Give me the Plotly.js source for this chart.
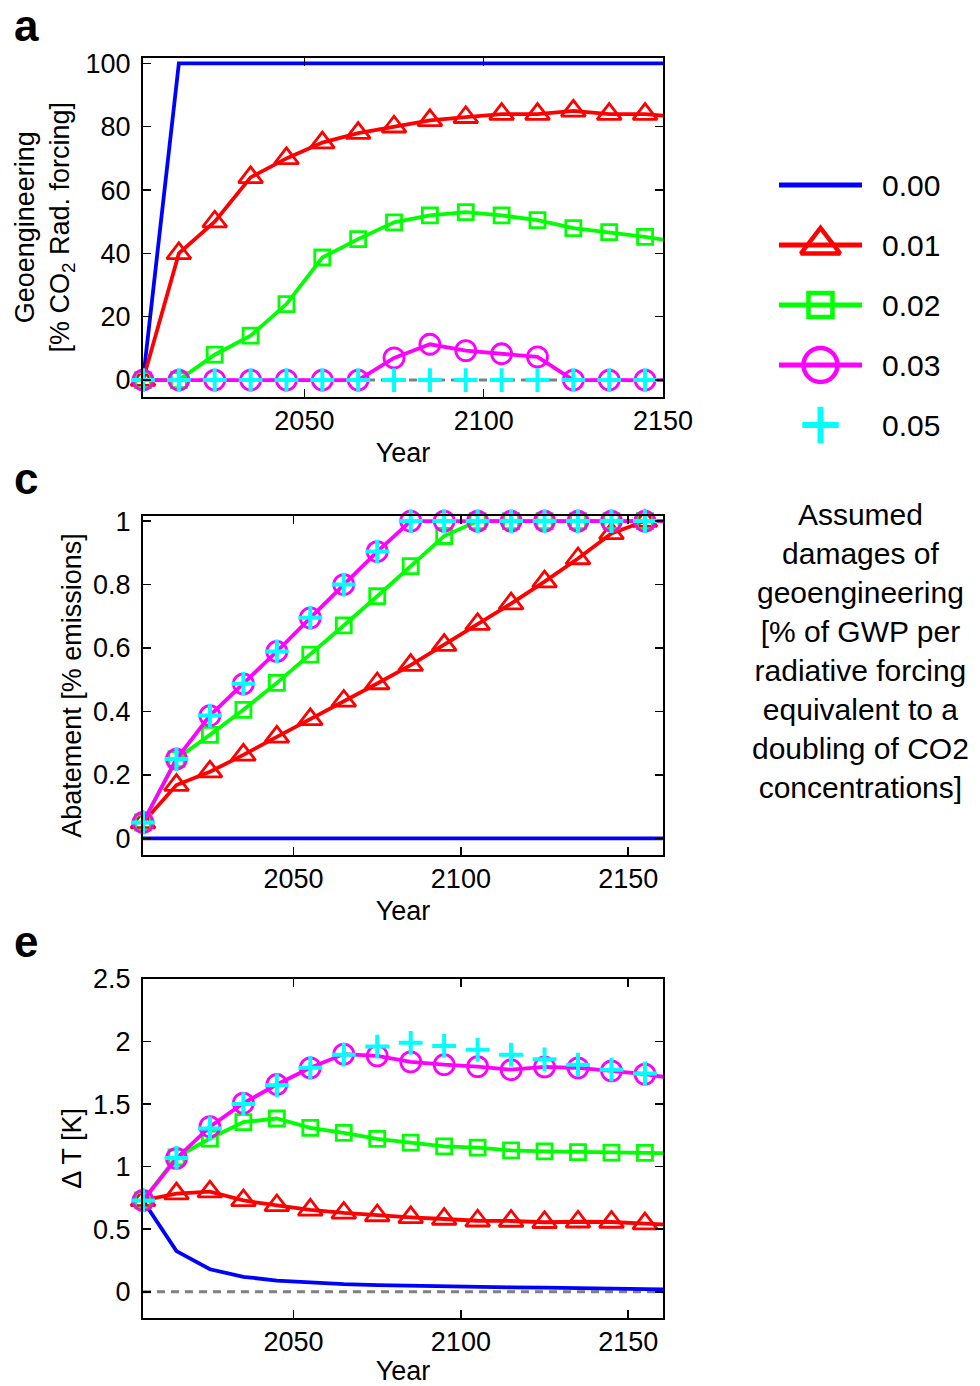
<!DOCTYPE html>
<html>
<head>
<meta charset="utf-8">
<script src="https://cdn.plot.ly/plotly-3.0.1.min.js"></script>
<style>html,body{margin:0;padding:0;background:#fff;}#chart{width:980px;height:1386px;}</style>
</head>
<body>
<div id="chart"></div>
<script>
// ---------- data ----------
const years = [2005, 2015, 2025, 2035, 2045, 2055, 2065, 2075, 2085, 2095, 2105, 2115, 2125, 2135, 2145, 2155, 2165];
const seriesLabels = ['0.00', '0.01', '0.02', '0.03', '0.05'];

// panel a: Geoengineering [% CO2 Rad. forcing]
const geoBlue    = [0, 100, 100, 100, 100, 100, 100, 100, 100, 100, 100, 100, 100, 100, 100, 100, 100];
const geoRed     = [0, 40, 50, 64, 70, 75, 78, 80, 82, 83, 84, 84, 85, 84, 84, 83, 83];
const geoGreen   = [0, 0, 8, 14, 24, 38.7, 44.5, 49.8, 52, 53, 52, 50.5, 48, 46.7, 45.2, 43.5, 43];
const geoMagenta = [0, 0, 0, 0, 0, 0, 0, 7, 11.3, 9.3, 8.3, 7.3, 0, 0, 0, 0, 0];
const geoCyan    = [0, 0, 0, 0, 0, 0, 0, 0, 0, 0, 0, 0, 0, 0, 0, 0, 0];

// panel c: Abatement [% emissions]
const abBlue    = [0, 0, 0, 0, 0, 0, 0, 0, 0, 0, 0, 0, 0, 0, 0, 0, 0];
const abRed     = [0.05, 0.168, 0.21, 0.263, 0.32, 0.375, 0.433, 0.488, 0.546, 0.609, 0.675, 0.74, 0.809, 0.882, 0.961, 1.0, 1.0];
const abGreen   = [0.05, 0.25, 0.326, 0.405, 0.49, 0.579, 0.671, 0.763, 0.858, 0.953, 1, 1, 1, 1, 1, 1, 1];
const abMagenta = [0.05, 0.25, 0.387, 0.487, 0.589, 0.695, 0.8, 0.904, 1, 1, 1, 1, 1, 1, 1, 1, 1];
const abCyan    = [0.05, 0.25, 0.387, 0.487, 0.589, 0.695, 0.8, 0.904, 1, 1, 1, 1, 1, 1, 1, 1, 1];

// panel e: ΔT [K]
const dtBlue    = [0.73, 0.325, 0.18, 0.12, 0.09, 0.072, 0.061, 0.054, 0.048, 0.044, 0.04, 0.036, 0.034, 0.031, 0.027, 0.022, 0.018];
const dtRed     = [0.73, 0.785, 0.80, 0.73, 0.69, 0.655, 0.63, 0.61, 0.595, 0.582, 0.568, 0.566, 0.556, 0.56, 0.558, 0.545, 0.535];
const dtGreen   = [0.73, 1.075, 1.225, 1.356, 1.385, 1.31, 1.27, 1.222, 1.192, 1.162, 1.153, 1.13, 1.122, 1.117, 1.113, 1.11, 1.107];
const dtMagenta = [0.73, 1.066, 1.32, 1.508, 1.657, 1.79, 1.9, 1.885, 1.838, 1.815, 1.8, 1.775, 1.797, 1.79, 1.766, 1.74, 1.70];
const dtCyan    = [0.73, 1.07, 1.305, 1.5, 1.65, 1.79, 1.895, 1.96, 1.99, 1.965, 1.935, 1.895, 1.858, 1.815, 1.775, 1.745, 1.715];

const ticksA = [0, 20, 40, 60, 80, 100];
const ticksC = [0, 0.2, 0.4, 0.6, 0.8, 1];
const ticksE = [0, 0.5, 1, 1.5, 2, 2.5];
const yearTicks = [2050, 2100, 2150];

// ---------- styles ----------
const colors  = ['#0000ff', '#ff0000', '#00ff00', '#ff00ff', '#00ffff'];
const symbols = [null, 'triangle-up-open', 'square-open', 'circle-open', 'cross-thin'];
const msizes  = [0, 21, 15, 20, 17];
const legSizes = [0, 34, 24, 34, 26];
const FONT = 'Liberation Sans, Arial, Helvetica, sans-serif';

function panelTraces(vals, xa, ya) {
  return vals.map((v, i) => {
    const t = {x: years, y: v, xaxis: xa, yaxis: ya, type: 'scatter',
      cliponaxis: false, showlegend: false, hoverinfo: 'skip', name: seriesLabels[i]};
    if (i === 0) {
      t.mode = 'lines';
      t.line = {color: colors[i], width: 3.8};
    } else {
      t.mode = (i === 4) ? 'markers' : 'lines+markers';
      t.line = {color: colors[i], width: 3.8};
      t.marker = {symbol: symbols[i], size: msizes[i], color: colors[i],
        line: {color: colors[i], width: i === 4 ? 4 : 2.8}};
    }
    return t;
  });
}

const traces = [].concat(
  panelTraces([geoBlue, geoRed, geoGreen, geoMagenta, geoCyan], 'x', 'y'),
  panelTraces([abBlue, abRed, abGreen, abMagenta, abCyan], 'x2', 'y2'),
  panelTraces([dtBlue, dtRed, dtGreen, dtMagenta, dtCyan], 'x3', 'y3')
);

// legend samples on a hidden helper axis (rows 0..4)
seriesLabels.forEach((lab, i) => {
  if (i < 4) traces.push({x: [0, 1], y: [i, i], xaxis: 'x4', yaxis: 'y4', mode: 'lines',
    line: {color: colors[i], width: 5}, showlegend: false, hoverinfo: 'skip'});
  if (i > 0) traces.push({x: [0.5], y: [i], xaxis: 'x4', yaxis: 'y4', mode: 'markers', cliponaxis: false,
    marker: {symbol: symbols[i], size: legSizes[i], color: colors[i], line: {color: colors[i], width: i === 4 ? 6 : 4.5}},
    showlegend: false, hoverinfo: 'skip'});
});

const W = 980, H = 1386;
const px = v => v / W, py = v => 1 - v / H;
const xDom = [px(143), px(663)];
const tickFont = {family: FONT, size: 27, color: '#000'};

function xAxis(anchor, range) {
  return {domain: xDom, anchor: anchor, range: range, tickvals: yearTicks, ticktext: yearTicks.map(String),
    showline: true, mirror: 'allticks', linecolor: '#000', linewidth: 2,
    ticks: 'inside', ticklen: 8, tickwidth: 1.5, tickcolor: '#000',
    showgrid: false, zeroline: false, tickfont: tickFont, ticklabelstandoff: -1,
    title: {text: 'Year', font: tickFont, standoff: 8}};
}
function yAxis(anchor, dom, range, tv, title, standoff) {
  return {domain: dom, anchor: anchor, range: range, tickvals: tv, ticktext: tv.map(String),
    showline: true, mirror: 'allticks', linecolor: '#000', linewidth: 2,
    ticks: 'inside', ticklen: 8, tickwidth: 1.5, tickcolor: '#000',
    showgrid: false, zeroline: false, tickfont: tickFont, ticklabelstandoff: 5,
    title: {text: title, font: tickFont, standoff: standoff}};
}

const layout = {
  width: W, height: H, margin: {l: 0, r: 0, t: 0, b: 0},
  paper_bgcolor: '#fff', plot_bgcolor: '#fff', showlegend: false,
  font: {family: FONT, color: '#000'},
  xaxis: xAxis('y', [2005, 2150]),
  yaxis: yAxis('x', [py(396.7), py(57.7)], [-5.26, 101.8], ticksA,
    'Geoengineering<br>[% CO<sub>2</sub> Rad. forcing]', 8),
  xaxis2: xAxis('y2', [2005, 2160.4]),
  yaxis2: yAxis('x2', [py(855), py(516)], [-0.0525, 1.016], ticksC, 'Abatement [% emissions]', 4),
  xaxis3: xAxis('y3', [2005, 2160.4]),
  yaxis3: yAxis('x3', [py(1317.7), py(979)], [-0.207, 2.5], ticksE, '\u0394 T [K]', 4),
  xaxis4: {domain: [px(779), px(862)], anchor: 'y4', range: [0, 1], visible: false, fixedrange: true},
  yaxis4: {domain: [py(455), py(155)], anchor: 'x4', range: [4.5, -0.5], visible: false, fixedrange: true},
  shapes: [
    {type: 'line', layer: 'below', xref: 'x domain', yref: 'y', x0: 0, x1: 1, y0: 0, y1: 0,
      line: {color: '#808080', width: 3, dash: '8px,6px'}},
    {type: 'line', layer: 'below', xref: 'x3 domain', yref: 'y3', x0: 0, x1: 1, y0: 0, y1: 0,
      line: {color: '#808080', width: 3, dash: '8px,6px'}}
  ],
  annotations: [
    {text: '<b>a</b>', xref: 'paper', yref: 'paper', x: px(26), y: 1, xanchor: 'center', yanchor: 'top', borderpad: 0, showarrow: false, font: {family: FONT, size: 44, color: '#000'}},
    {text: '<b>c</b>', xref: 'paper', yref: 'paper', x: px(26), y: py(479), xanchor: 'center', yanchor: 'middle', showarrow: false, font: {family: FONT, size: 44, color: '#000'}},
    {text: '<b>e</b>', xref: 'paper', yref: 'paper', x: px(26), y: py(941), xanchor: 'center', yanchor: 'middle', showarrow: false, font: {family: FONT, size: 44, color: '#000'}},
    {text: 'Assumed<br>damages of<br>geoengineering<br>[% of GWP per<br>radiative forcing<br>equivalent to a<br>doubling of CO2<br>concentrations]',
      xref: 'paper', yref: 'paper', x: px(860), y: py(651), xanchor: 'center', yanchor: 'middle', align: 'center',
      showarrow: false, font: {family: FONT, size: 30, color: '#000'}}
  ].concat(seriesLabels.map((lab, i) => ({text: lab, xref: 'paper', yref: 'y4', x: px(880), y: i,
      xanchor: 'left', yanchor: 'middle', showarrow: false, font: {family: FONT, size: 30, color: '#000'}})))
};

Plotly.newPlot('chart', traces, layout, {staticPlot: true, displayModeBar: false});
</script>
</body>
</html>
